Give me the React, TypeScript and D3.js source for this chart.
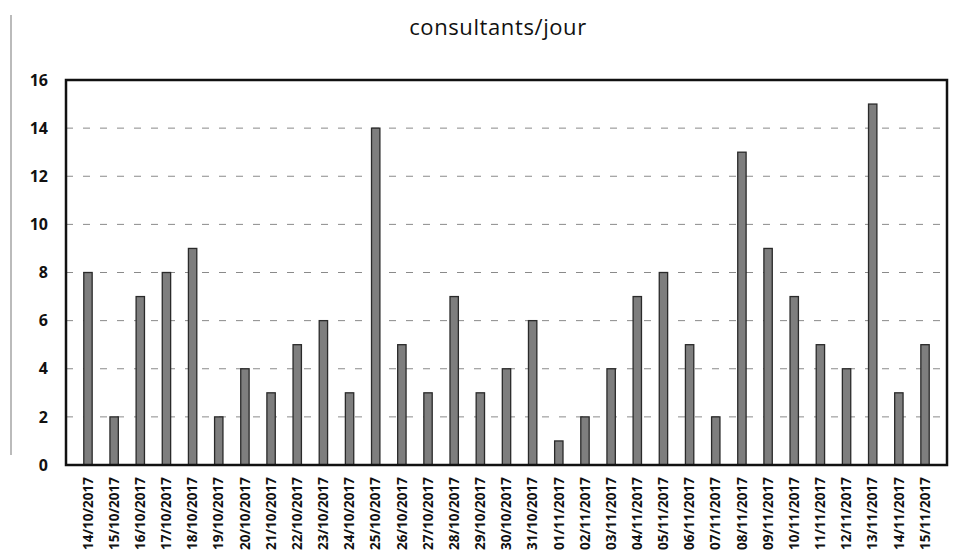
import * as d3 from 'd3';
import React, { useEffect, useRef } from 'react';

const dates = [
  '14/10/2017', '15/10/2017', '16/10/2017', '17/10/2017', '18/10/2017', '19/10/2017',
  '20/10/2017', '21/10/2017', '22/10/2017', '23/10/2017', '24/10/2017', '25/10/2017',
  '26/10/2017', '27/10/2017', '28/10/2017', '29/10/2017', '30/10/2017', '31/10/2017',
  '01/11/2017', '02/11/2017', '03/11/2017', '04/11/2017', '05/11/2017', '06/11/2017',
  '07/11/2017', '08/11/2017', '09/11/2017', '10/11/2017', '11/11/2017', '12/11/2017',
  '13/11/2017', '14/11/2017', '15/11/2017',
];

const consultants = [
  8, 2, 7, 8, 9, 2, 4, 3, 5, 6, 3, 14, 5, 3, 7, 3, 4, 6,
  1, 2, 4, 7, 8, 5, 2, 13, 9, 7, 5, 4, 15, 3, 5,
];

const yTicks = [0, 2, 4, 6, 8, 10, 12, 14, 16];

const title = 'consultants/jour';

const App = () => {
  const svgRef = useRef<SVGSVGElement | null>(null);
  const width = 963;
  const height = 557;
  const margin = { top: 80, right: 16, bottom: 92, left: 66 };

  useEffect(() => {
    const svg = d3.select(svgRef.current);
    svg.selectAll('*').remove();

    const innerW = width - margin.left - margin.right;
    const innerH = height - margin.top - margin.bottom;

    const x = d3.scaleBand().domain(dates).range([0, innerW]).padding(0.68);
    const y = d3.scaleLinear().domain([0, 16]).range([innerH, 0]);

    // scan edge on the left
    svg
      .append('line')
      .attr('x1', 11)
      .attr('x2', 11)
      .attr('y1', 15)
      .attr('y2', 455)
      .attr('stroke', '#bbb')
      .attr('stroke-width', 2);

    svg
      .append('text')
      .attr('x', 498)
      .attr('y', 35)
      .attr('text-anchor', 'middle')
      .style('font-family', '"Open Sans", sans-serif')
      .style('font-size', '22px')
      .style('letter-spacing', '0.6px')
      .attr('fill', '#111')
      .text(title);

    const g = svg.append('g').attr('transform', `translate(${margin.left},${margin.top})`);

    // dashed gridlines
    g.selectAll('line.grid')
      .data(yTicks.filter((t) => t > 0 && t < 16))
      .enter()
      .append('line')
      .attr('class', 'grid')
      .attr('x1', 0)
      .attr('x2', innerW)
      .attr('y1', (d) => y(d))
      .attr('y2', (d) => y(d))
      .attr('stroke', '#8a8a8a')
      .attr('stroke-width', 1)
      .attr('stroke-dasharray', '7,10');

    // bars
    g.selectAll('rect.bar')
      .data(consultants)
      .enter()
      .append('rect')
      .attr('class', 'bar')
      .attr('x', (d, i) => x(dates[i]) as number)
      .attr('y', (d) => y(d))
      .attr('width', x.bandwidth())
      .attr('height', (d) => innerH - y(d))
      .attr('fill', '#7e7e7e')
      .attr('stroke', '#2a2a2a')
      .attr('stroke-width', 1.3);

    // frame
    g.append('rect')
      .attr('x', 0)
      .attr('y', 0)
      .attr('width', innerW)
      .attr('height', innerH)
      .attr('fill', 'none')
      .attr('stroke', '#111')
      .attr('stroke-width', 2.5);

    // y axis
    const yAxis = g.append('g').call(d3.axisLeft(y).tickValues(yTicks).tickSize(0).tickPadding(18));
    yAxis.select('.domain').remove();
    yAxis
      .selectAll('text')
      .style('font-family', '"Open Sans", sans-serif')
      .style('font-size', '16px')
      .style('font-weight', 'bold')
      .attr('fill', '#111');

    // x axis
    const xAxis = g
      .append('g')
      .attr('transform', `translate(0,${innerH})`)
      .call(d3.axisBottom(x).tickSize(0));
    xAxis.select('.domain').remove();
    xAxis
      .selectAll('text')
      .attr('transform', 'rotate(-90)')
      .attr('x', -12)
      .attr('y', 0)
      .attr('dy', '0.35em')
      .style('text-anchor', 'end')
      .style('font-family', '"Open Sans", sans-serif')
      .style('font-size', '13.5px')
      .style('font-weight', 'bold')
      .attr('fill', '#111');
  }, []);

  return (
    <svg
      ref={svgRef}
      width={width}
      height={height}
      style={{ position: 'absolute', left: 0, top: 0, background: 'white' }}
    ></svg>
  );
};

export default App;
